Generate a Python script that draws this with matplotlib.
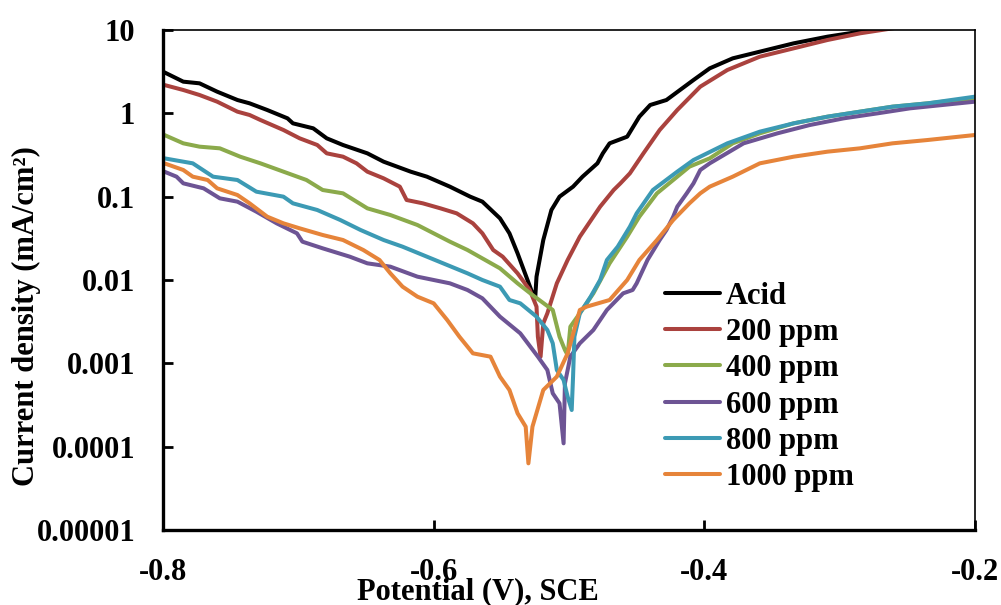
import numpy as np
import matplotlib
matplotlib.use("Agg")
import matplotlib.pyplot as plt
from matplotlib.ticker import FixedLocator, FixedFormatter

plt.rcParams['font.family'] = ['Liberation Serif', 'DejaVu Serif']
plt.rcParams['font.weight'] = 'bold'

# Tafel curves: potential (V vs SCE) and log10 of current density (mA/cm2)
acid_E = [-0.800, -0.785, -0.773, -0.760, -0.745, -0.736, -0.723, -0.708, -0.704, -0.689,
          -0.679, -0.667, -0.649, -0.637, -0.617, -0.605, -0.588, -0.573, -0.564, -0.551,
          -0.544, -0.538, -0.527, -0.525, -0.524, -0.519, -0.513, -0.507, -0.497, -0.490,
          -0.479, -0.475, -0.470, -0.457, -0.448, -0.440, -0.428, -0.418, -0.408, -0.396,
          -0.379, -0.359, -0.334, -0.309, -0.285, -0.272, -0.250, -0.200]
acid_logi = [0.50, 0.38, 0.36, 0.26, 0.16, 0.12, 0.04, -0.06, -0.12, -0.18,
             -0.30, -0.38, -0.48, -0.58, -0.70, -0.76, -0.88, -1.00, -1.06, -1.26,
             -1.44, -1.68, -2.16, -2.22, -1.96, -1.52, -1.16, -1.00, -0.88, -0.76,
             -0.60, -0.48, -0.36, -0.28, -0.04, 0.10, 0.16, 0.28, 0.40, 0.54,
             0.66, 0.74, 0.84, 0.92, 0.98, 1.01, 1.05, 1.12]

p200_E = [-0.799, -0.785, -0.773, -0.760, -0.745, -0.736, -0.728, -0.711, -0.699, -0.686,
          -0.679, -0.667, -0.657, -0.649, -0.637, -0.625, -0.620, -0.608, -0.595, -0.583,
          -0.571, -0.564, -0.556, -0.549, -0.538, -0.529, -0.524, -0.523, -0.521, -0.519,
          -0.516, -0.509, -0.501, -0.492, -0.487, -0.477, -0.467, -0.462, -0.455, -0.445,
          -0.433, -0.420, -0.403, -0.383, -0.359, -0.334, -0.309, -0.285, -0.261, -0.246, -0.200]
p200_logi = [0.34, 0.28, 0.22, 0.14, 0.02, -0.02, -0.08, -0.20, -0.30, -0.38,
             -0.48, -0.52, -0.60, -0.70, -0.78, -0.88, -1.04, -1.08, -1.14, -1.20,
             -1.32, -1.44, -1.64, -1.72, -1.92, -2.12, -2.32, -2.68, -2.92, -2.52,
             -2.40, -2.04, -1.76, -1.48, -1.36, -1.12, -0.92, -0.84, -0.72, -0.48,
             -0.20, 0.04, 0.32, 0.52, 0.68, 0.78, 0.88, 0.96, 1.02, 1.06, 1.12]

p400_E = [-0.799, -0.785, -0.773, -0.758, -0.743, -0.728, -0.711, -0.694, -0.682, -0.667,
          -0.649, -0.632, -0.612, -0.600, -0.588, -0.575, -0.551, -0.538, -0.527, -0.512,
          -0.507, -0.503, -0.501, -0.499, -0.492, -0.482, -0.470, -0.457, -0.448, -0.435,
          -0.423, -0.411, -0.396, -0.379, -0.359, -0.334, -0.309, -0.285, -0.261, -0.235, -0.200]
p400_logi = [-0.26, -0.36, -0.40, -0.42, -0.52, -0.60, -0.70, -0.80, -0.92, -0.96,
             -1.14, -1.22, -1.34, -1.44, -1.54, -1.64, -1.86, -2.04, -2.18, -2.36,
             -2.68, -2.84, -2.90, -2.56, -2.40, -2.16, -1.80, -1.48, -1.24, -0.96,
             -0.80, -0.64, -0.54, -0.36, -0.24, -0.12, -0.04, 0.02, 0.08, 0.12, 0.18]

p600_E = [-0.799, -0.790, -0.785, -0.770, -0.758, -0.745, -0.731, -0.716, -0.701, -0.697,
          -0.682, -0.662, -0.649, -0.632, -0.612, -0.588, -0.575, -0.564, -0.551, -0.536,
          -0.523, -0.516, -0.512, -0.507, -0.504, -0.503, -0.499, -0.492, -0.482, -0.472,
          -0.460, -0.453, -0.450, -0.442, -0.433, -0.428, -0.423, -0.420, -0.413, -0.408,
          -0.403, -0.396, -0.371, -0.346, -0.322, -0.297, -0.272, -0.248, -0.200]
p600_logi = [-0.70, -0.76, -0.84, -0.90, -1.02, -1.06, -1.18, -1.32, -1.44, -1.54,
             -1.62, -1.72, -1.80, -1.84, -1.96, -2.04, -2.12, -2.22, -2.44, -2.64,
             -2.92, -3.08, -3.36, -3.48, -3.96, -3.24, -2.92, -2.76, -2.60, -2.36,
             -2.16, -2.12, -2.04, -1.76, -1.52, -1.40, -1.24, -1.12, -0.96, -0.84,
             -0.68, -0.60, -0.36, -0.24, -0.14, -0.06, 0.00, 0.06, 0.14]

p800_E = [-0.799, -0.778, -0.763, -0.745, -0.731, -0.711, -0.704, -0.686, -0.669, -0.654,
          -0.637, -0.623, -0.608, -0.593, -0.575, -0.564, -0.551, -0.544, -0.536, -0.524,
          -0.516, -0.512, -0.509, -0.504, -0.501, -0.498, -0.497, -0.496, -0.492, -0.484,
          -0.477, -0.472, -0.464, -0.455, -0.450, -0.438, -0.420, -0.408, -0.383, -0.359,
          -0.334, -0.309, -0.285, -0.261, -0.235, -0.200]
p800_logi = [-0.54, -0.60, -0.76, -0.80, -0.94, -1.00, -1.08, -1.16, -1.28, -1.40,
             -1.52, -1.60, -1.70, -1.80, -1.92, -2.00, -2.08, -2.24, -2.28, -2.44,
             -2.60, -2.76, -3.08, -3.20, -3.40, -3.56, -3.16, -2.68, -2.40, -2.20,
             -2.00, -1.76, -1.60, -1.36, -1.20, -0.92, -0.70, -0.56, -0.36, -0.22,
             -0.12, -0.04, 0.02, 0.08, 0.12, 0.20]

p1000_E = [-0.799, -0.785, -0.778, -0.767, -0.760, -0.745, -0.736, -0.723, -0.711, -0.699,
           -0.682, -0.667, -0.652, -0.640, -0.632, -0.623, -0.612, -0.600, -0.590, -0.581,
           -0.571, -0.558, -0.551, -0.544, -0.538, -0.532, -0.530, -0.527, -0.519, -0.509,
           -0.501, -0.492, -0.487, -0.470, -0.457, -0.448, -0.435, -0.423, -0.411, -0.403,
           -0.396, -0.379, -0.359, -0.334, -0.309, -0.285, -0.261, -0.235, -0.200]
p1000_logi = [-0.60, -0.68, -0.76, -0.80, -0.90, -0.98, -1.08, -1.24, -1.32, -1.38,
              -1.46, -1.52, -1.64, -1.76, -1.92, -2.08, -2.20, -2.28, -2.48, -2.68,
              -2.88, -2.92, -3.16, -3.32, -3.60, -3.76, -4.20, -3.76, -3.32, -3.16,
              -2.88, -2.36, -2.32, -2.24, -2.00, -1.76, -1.52, -1.28, -1.08, -0.96,
              -0.88, -0.76, -0.60, -0.52, -0.46, -0.42, -0.36, -0.32, -0.26]

labels = ['Acid', '200 ppm', '400 ppm', '600 ppm', '800 ppm', '1000 ppm']
colors = ['#000000', '#AA423E', '#8BAA4B', '#6D5494', '#3C9AB4', '#E6843A']
series = [(acid_E, acid_logi), (p200_E, p200_logi), (p400_E, p400_logi),
          (p600_E, p600_logi), (p800_E, p800_logi), (p1000_E, p1000_logi)]

yticks = [1e-5, 1e-4, 1e-3, 1e-2, 1e-1, 1, 10]
ytick_labels = ['0.00001', '0.0001', '0.001', '0.01', '0.1', '1', '10']
xticks = [-0.8, -0.6, -0.4, -0.2]
xtick_labels = ['-0.8', '-0.6', '-0.4', '-0.2']

fig = plt.figure(figsize=(10.01, 6.05), dpi=100)
ax = fig.add_axes([163/1001, 75/605, 812/1001, 500/605])

for (E, logi), lab, c in zip(series, labels, colors):
    ax.plot(E, 10**np.array(logi), color=c, lw=2.9, label=lab,
            solid_capstyle='round', solid_joinstyle='round')

ax.set_yscale('log')
ax.set_xlim(-0.8, -0.2)
ax.set_ylim(1e-5, 10)
ax.yaxis.set_major_locator(FixedLocator(yticks))
ax.yaxis.set_major_formatter(FixedFormatter(ytick_labels))
ax.yaxis.set_minor_locator(FixedLocator([]))
ax.set_xticks(xticks)
ax.set_xticklabels(xtick_labels)

ax.tick_params(axis='both', direction='in', length=7, width=2, labelsize=22, pad=20)
ax.spines['left'].set_linewidth(2.4)
ax.spines['bottom'].set_linewidth(2.4)
ax.spines['top'].set_linewidth(1.2)
ax.spines['right'].set_linewidth(1.2)

ax.set_xlabel('Potential (V), SCE', fontsize=22, fontweight='bold')
ax.set_ylabel('Current density (mA/cm²)', fontsize=22, fontweight='bold')
ax.xaxis.set_label_coords(0.388, -0.094)
ax.yaxis.set_label_coords(-0.15, 0.428)

leg = ax.legend(loc='upper left', bbox_to_anchor=(0.618, 0.497), frameon=False,
                fontsize=22, handlelength=1.8, handletextpad=0.2, labelspacing=0.24,
                borderpad=0, borderaxespad=0)

fig.savefig('out.png', dpi=100)
